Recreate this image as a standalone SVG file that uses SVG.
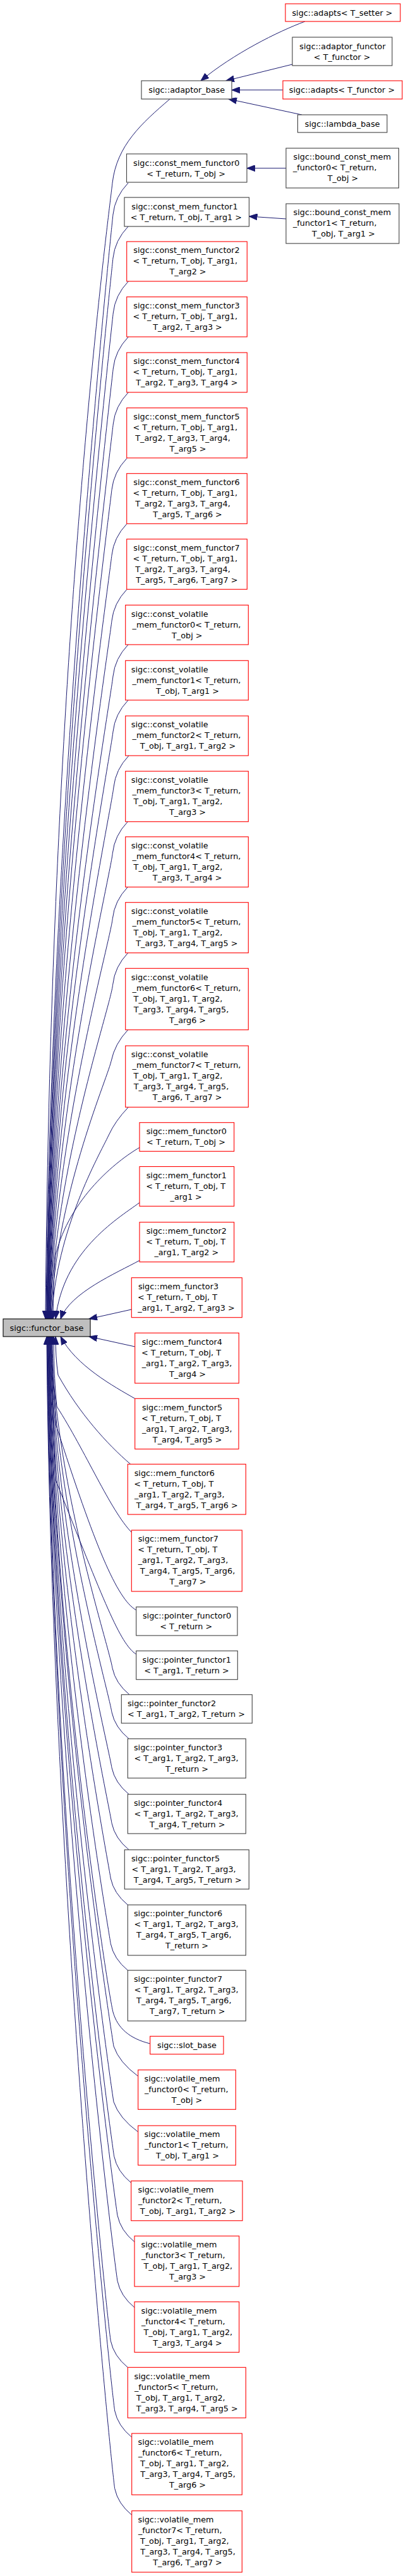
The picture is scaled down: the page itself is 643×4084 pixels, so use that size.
<svg xmlns="http://www.w3.org/2000/svg" width="643" height="4084" viewBox="0 0 643 4084">
<style>
text{font-family:"DejaVu Sans","Liberation Sans",sans-serif;font-size:12.8px;text-anchor:middle;fill:#000}
.n rect{fill:#fff;stroke:#404040;stroke-width:1.1}
.r rect{fill:#fff;stroke:#ff0000;stroke-width:1.1}
.b rect{fill:#bfbfbf;stroke:#000;stroke-width:1.1}
#edges path{fill:none;stroke:#191970;stroke-width:1;marker-end:url(#a)}
</style>
<defs>
<marker id="a" markerUnits="userSpaceOnUse" markerWidth="14" markerHeight="10" refX="13" refY="5" orient="auto" viewBox="0 0 14 10">
<path d="M0,0 L13,5 L0,10 z" fill="#191970" stroke="#191970" stroke-width="1"/>
</marker>
</defs>
<rect width="643" height="4084" fill="#fff"/>
<g id="edges">
<path d="M483,34 C440,50 370,85 318,128"/>
<path d="M463,102 L358,128"/>
<path d="M448,142.7 L367,142.7"/>
<path d="M478,182 L362,157"/>
<path d="M453,266.7 L391,266.7"/>
<path d="M453,347 L394.5,343"/>
<path d="M269,157 C225,195 185,230 178,290 C172,345 80,1027 72,2091"/>
<path d="M203,290 Q182,312 179,340 C175,377 79,1303 73,2091"/>
<path d="M203,359 Q182,381 179,409 C175,446 80,1334 74,2091"/>
<path d="M203.3,446 Q182.3,468 179.3,496 C175.3,533 80.5,1373 74.5,2091"/>
<path d="M203.3,534 Q182.3,556 179.3,584 C175.3,621 81,1413 75,2091"/>
<path d="M203.3,622 Q182.3,644 179.3,672 C175.3,709 81.5,1452 75.5,2091"/>
<path d="M201,726.5 Q180,748.5 177,776.5 C173,813.5 82,1499.5 76,2091"/>
<path d="M201,830.3 Q180,852.3 177,880.3 C173,917.3 82.5,1546 76.5,2091"/>
<path d="M201,934.3 Q180,956.3 177,984.3 C173,1021.3 83,1593 77,2091"/>
<path d="M203,1022 Q182,1044 179,1072 C175,1109 83.5,1632 77.5,2091"/>
<path d="M203,1110 Q182,1132 179,1160 C175,1197 84,1672 78,2091"/>
<path d="M204,1198 Q183,1220 180,1248 C176,1285 84.5,1712 78.5,2091"/>
<path d="M202.3,1302.7 Q181.3,1324.7 178.3,1352.7 C174.3,1389.7 85,1759 79,2091"/>
<path d="M202.3,1406.3 Q181.3,1428.3 178.3,1456.3 C174.3,1493.3 85.5,1805.4 79.5,2091"/>
<path d="M202.7,1510.7 Q181.7,1532.7 178.7,1560.7 C174.7,1597.7 86,1852 80,2091"/>
<path d="M202.7,1632.7 Q181.7,1654.7 176,1682.7 C168,1715 87,1900 81,2091"/>
<path d="M203.3,1755.3 Q182.3,1777.3 172,1800 C158,1830 88,1950 82,2091"/>
<path d="M221,1819.3 C185,1840 110,1900 88,1990 C85,2020 84,2060 84,2091"/>
<path d="M221,1906.7 C183,1934 100,1985 88,2091"/>
<path d="M221,1998.3 C185,2018 110,2050 96,2091"/>
<path d="M208.3,2076 L141,2091"/>
<path d="M213.7,2135 L141,2119"/>
<path d="M213.7,2217.3 C180,2198 120,2165 96,2119"/>
<path d="M206.7,2321.3 C170,2290 125,2240 92,2180 C89,2160 88,2140 88,2119"/>
<path d="M208.3,2429.3 C175,2395 135,2300 90,2230 C86,2190 85,2150 85,2119"/>
<path d="M215.7,2552.7 C185,2535 150,2450 89,2260 C85,2200 83,2150 83,2119"/>
<path d="M215.7,2622.7 C190,2606 165,2540 88,2346 C84,2250 82,2170 82,2119"/>
<path d="M205,2686.7 Q183,2668.7 178,2644.7 C172,2606.7 87,2355.6 81,2119"/>
<path d="M204,2756.5 Q182,2738.5 177,2714.5 C171,2676.5 86.5,2387 80.5,2119"/>
<path d="M204,2844.5 Q182,2826.5 177,2802.5 C171,2764.5 86,2426.6 80,2119"/>
<path d="M204,2932.5 Q182,2914.5 177,2890.5 C171,2852.5 85.5,2466 79.5,2119"/>
<path d="M202.3,3020 Q180.3,3002 175.3,2978 C169.3,2940 85,2505.6 79,2119"/>
<path d="M202.3,3123.7 Q180.3,3105.7 175.3,3081.7 C169.3,3043.7 84.5,2552 78.5,2119"/>
<path d="M237.7,3240 C205,3232 186,3215 179,3190 C171,3160 84,2601 78,2119"/>
<path d="M218.7,3291.7 Q188.7,3269.7 180,3244 C174,3206 83.5,2625 77.5,2119"/>
<path d="M218.7,3380 Q188.7,3358 180,3332.3 C174,3294 83,2665 77,2119"/>
<path d="M207.7,3460.7 Q185.7,3442.7 180.7,3418.7 C174.7,3380.7 82.5,2704 76.5,2119"/>
<path d="M213,3554.3 Q191,3536.3 186,3512.3 C180,3474.3 82,2746 76,2119"/>
<path d="M213,3658.3 Q191,3640.3 186,3616.3 C180,3578.3 81.5,2793 75.5,2119"/>
<path d="M202.3,3753.3 Q180.3,3735.3 175.3,3711.3 C169.3,3673.3 81,2835.5 75,2119"/>
<path d="M208.7,3864 Q186.7,3846 181.7,3822 C175.7,3784 80.5,2885 74.5,2119"/>
<path d="M208.7,3987.3 Q186.7,3969.3 181.7,3945.3 C175.7,3907.3 80,2940.8 74,2119"/>
</g>
<g id="adapts_setter" class="r"><rect x="452" y="6" width="182" height="28"/><text x="542" y="24.5">sigc::adapts&lt; T_setter &gt;</text></g>
<g id="adaptor_functor" class="n"><rect x="463" y="59" width="158" height="45"/><text x="542.5" y="77.5">sigc::adaptor_functor</text><text x="541.7" y="94.5">&lt; T_functor &gt;</text></g>
<g id="adaptor_base" class="n"><rect x="224" y="128" width="143" height="29"/><text x="295.7" y="146.8">sigc::adaptor_base</text></g>
<g id="adapts_functor" class="r"><rect x="448" y="128" width="189" height="29"/><text x="541.5" y="146.8">sigc::adapts&lt; T_functor &gt;</text></g>
<g id="lambda_base" class="n"><rect x="471.5" y="182" width="141.5" height="28"/><text x="542.3" y="200.5">sigc::lambda_base</text></g>
<g id="const_mem_functor0" class="n"><rect x="200.5" y="244" width="190.5" height="45"/><text x="295.2" y="262.5">sigc::const_mem_functor0</text><text x="294.6" y="279.5">&lt; T_return, T_obj &gt;</text></g>
<g id="bound_const_mem_functor0" class="n"><rect x="453" y="235" width="178.5" height="63"/><text x="541.9" y="253.3">sigc::bound_const_mem</text><text x="530.2" y="270.3">_functor0&lt; T_return,</text><text x="543" y="287.3">T_obj &gt;</text></g>
<g id="const_mem_functor1" class="n"><rect x="197" y="313" width="197.5" height="46"/><text x="292.4" y="331.8">sigc::const_mem_functor1</text><text x="294.8" y="348.8">&lt; T_return, T_obj, T_arg1 &gt;</text></g>
<g id="bound_const_mem_functor1" class="n"><rect x="453" y="323" width="179" height="63"/><text x="541.9" y="341.3">sigc::bound_const_mem</text><text x="530.2" y="358.3">_functor1&lt; T_return,</text><text x="544" y="375.3">T_obj, T_arg1 &gt;</text></g>
<g id="const_mem_functor2" class="r"><rect x="200.7" y="383" width="190.6" height="63"/><text x="295.5" y="401.3">sigc::const_mem_functor2</text><text x="293.3" y="418.3">&lt; T_return, T_obj, T_arg1,</text><text x="297.5" y="435.3">T_arg2 &gt;</text></g>
<g id="const_mem_functor3" class="r"><rect x="200.7" y="470.7" width="190.6" height="63.3"/><text x="295.5" y="489">sigc::const_mem_functor3</text><text x="293.3" y="506">&lt; T_return, T_obj, T_arg1,</text><text x="297" y="523">T_arg2, T_arg3 &gt;</text></g>
<g id="const_mem_functor4" class="r"><rect x="200.7" y="559" width="190.6" height="63"/><text x="295.5" y="577.3">sigc::const_mem_functor4</text><text x="293.3" y="594.3">&lt; T_return, T_obj, T_arg1,</text><text x="295.8" y="611.3">T_arg2, T_arg3, T_arg4 &gt;</text></g>
<g id="const_mem_functor5" class="r"><rect x="200.7" y="646.7" width="190.6" height="79.3"/><text x="295.5" y="665">sigc::const_mem_functor5</text><text x="293.3" y="682">&lt; T_return, T_obj, T_arg1,</text><text x="289.5" y="699">T_arg2, T_arg3, T_arg4,</text><text x="297.5" y="716">T_arg5 &gt;</text></g>
<g id="const_mem_functor6" class="r"><rect x="200.7" y="750.7" width="190.6" height="79.6"/><text x="295.5" y="769">sigc::const_mem_functor6</text><text x="293.3" y="786">&lt; T_return, T_obj, T_arg1,</text><text x="289.5" y="803">T_arg2, T_arg3, T_arg4,</text><text x="297" y="820">T_arg5, T_arg6 &gt;</text></g>
<g id="const_mem_functor7" class="r"><rect x="200.7" y="854.7" width="190.6" height="79.6"/><text x="295.5" y="873">sigc::const_mem_functor7</text><text x="293.3" y="890">&lt; T_return, T_obj, T_arg1,</text><text x="289.5" y="907">T_arg2, T_arg3, T_arg4,</text><text x="295.8" y="924">T_arg5, T_arg6, T_arg7 &gt;</text></g>
<g id="const_volatile_mem_functor0" class="r"><rect x="198.7" y="959.3" width="194.6" height="62.7"/><text x="268.8" y="977.6">sigc::const_volatile</text><text x="295.5" y="994.6">_mem_functor0&lt; T_return,</text><text x="296.3" y="1011.6">T_obj &gt;</text></g>
<g id="const_volatile_mem_functor1" class="r"><rect x="198.7" y="1047.3" width="194.6" height="62.7"/><text x="268.8" y="1065.6">sigc::const_volatile</text><text x="295.5" y="1082.6">_mem_functor1&lt; T_return,</text><text x="297" y="1099.6">T_obj, T_arg1 &gt;</text></g>
<g id="const_volatile_mem_functor2" class="r"><rect x="198.7" y="1135" width="194.6" height="63"/><text x="268.8" y="1153.3">sigc::const_volatile</text><text x="295.5" y="1170.3">_mem_functor2&lt; T_return,</text><text x="297.5" y="1187.3">T_obj, T_arg1, T_arg2 &gt;</text></g>
<g id="const_volatile_mem_functor3" class="r"><rect x="198.7" y="1222.7" width="194.6" height="80"/><text x="268.8" y="1241">sigc::const_volatile</text><text x="295.5" y="1258">_mem_functor3&lt; T_return,</text><text x="282" y="1275">T_obj, T_arg1, T_arg2,</text><text x="297" y="1292">T_arg3 &gt;</text></g>
<g id="const_volatile_mem_functor4" class="r"><rect x="198.7" y="1326.7" width="194.6" height="79.6"/><text x="268.8" y="1345">sigc::const_volatile</text><text x="295.5" y="1362">_mem_functor4&lt; T_return,</text><text x="282" y="1379">T_obj, T_arg1, T_arg2,</text><text x="296.7" y="1396">T_arg3, T_arg4 &gt;</text></g>
<g id="const_volatile_mem_functor5" class="r"><rect x="198.7" y="1430.7" width="194.6" height="80"/><text x="268.8" y="1449">sigc::const_volatile</text><text x="295.5" y="1466">_mem_functor5&lt; T_return,</text><text x="282" y="1483">T_obj, T_arg1, T_arg2,</text><text x="295.8" y="1500">T_arg3, T_arg4, T_arg5 &gt;</text></g>
<g id="const_volatile_mem_functor6" class="r"><rect x="198.7" y="1535.3" width="194.6" height="97.4"/><text x="268.8" y="1553.6">sigc::const_volatile</text><text x="295.5" y="1570.6">_mem_functor6&lt; T_return,</text><text x="282" y="1587.6">T_obj, T_arg1, T_arg2,</text><text x="287" y="1604.6">T_arg3, T_arg4, T_arg5,</text><text x="297" y="1621.6">T_arg6 &gt;</text></g>
<g id="const_volatile_mem_functor7" class="r"><rect x="198.7" y="1658" width="194.6" height="97.3"/><text x="268.8" y="1676.3">sigc::const_volatile</text><text x="295.5" y="1693.3">_mem_functor7&lt; T_return,</text><text x="282" y="1710.3">T_obj, T_arg1, T_arg2,</text><text x="287" y="1727.3">T_arg3, T_arg4, T_arg5,</text><text x="296.7" y="1744.3">T_arg6, T_arg7 &gt;</text></g>
<g id="mem_functor0" class="r"><rect x="221" y="1779.7" width="149.7" height="45.6"/><text x="295.3" y="1798">sigc::mem_functor0</text><text x="294.5" y="1815">&lt; T_return, T_obj &gt;</text></g>
<g id="mem_functor1" class="r"><rect x="221" y="1849.5" width="149.7" height="62.8"/><text x="295.3" y="1867.8">sigc::mem_functor1</text><text x="294.2" y="1884.8">&lt; T_return, T_obj, T</text><text x="294.7" y="1901.8">_arg1 &gt;</text></g>
<g id="mem_functor2" class="r"><rect x="221" y="1937.7" width="149.7" height="63"/><text x="295.3" y="1956">sigc::mem_functor2</text><text x="294.2" y="1973">&lt; T_return, T_obj, T</text><text x="295.3" y="1990">_arg1, T_arg2 &gt;</text></g>
<g id="mem_functor3" class="r"><rect x="208.3" y="2025.7" width="175" height="63"/><text x="282.5" y="2044">sigc::mem_functor3</text><text x="281" y="2061">&lt; T_return, T_obj, T</text><text x="295" y="2078">_arg1, T_arg2, T_arg3 &gt;</text></g>
<g id="functor_base" class="b"><rect x="5" y="2091" width="138" height="28"/><text x="74" y="2109.5">sigc::functor_base</text></g>
<g id="mem_functor4" class="r"><rect x="213.7" y="2113.3" width="164.6" height="79.7"/><text x="288.3" y="2131.6">sigc::mem_functor4</text><text x="287" y="2148.6">&lt; T_return, T_obj, T</text><text x="296" y="2165.6">_arg1, T_arg2, T_arg3,</text><text x="297" y="2182.6">T_arg4 &gt;</text></g>
<g id="mem_functor5" class="r"><rect x="213.7" y="2217.3" width="164.3" height="80"/><text x="288.5" y="2235.6">sigc::mem_functor5</text><text x="287" y="2252.6">&lt; T_return, T_obj, T</text><text x="296.2" y="2269.6">_arg1, T_arg2, T_arg3,</text><text x="296.7" y="2286.6">T_arg4, T_arg5 &gt;</text></g>
<g id="mem_functor6" class="r"><rect x="202.3" y="2321.3" width="187" height="79.7"/><text x="276.3" y="2339.6">sigc::mem_functor6</text><text x="275.3" y="2356.6">&lt; T_return, T_obj, T</text><text x="284.2" y="2373.6">_arg1, T_arg2, T_arg3,</text><text x="296.2" y="2390.6">T_arg4, T_arg5, T_arg6 &gt;</text></g>
<g id="mem_functor7" class="r"><rect x="208.3" y="2426" width="175" height="97"/><text x="282.3" y="2444.3">sigc::mem_functor7</text><text x="281.3" y="2461.3">&lt; T_return, T_obj, T</text><text x="290" y="2478.3">_arg1, T_arg2, T_arg3,</text><text x="297" y="2495.3">T_arg4, T_arg5, T_arg6,</text><text x="297.5" y="2512.3">T_arg7 &gt;</text></g>
<g id="pointer_functor0" class="n"><rect x="215.7" y="2547.7" width="160.3" height="45.3"/><text x="296" y="2566">sigc::pointer_functor0</text><text x="294.8" y="2583">&lt; T_return &gt;</text></g>
<g id="pointer_functor1" class="n"><rect x="215.7" y="2617.3" width="160.6" height="45.4"/><text x="295.7" y="2635.6">sigc::pointer_functor1</text><text x="295.5" y="2652.6">&lt; T_arg1, T_return &gt;</text></g>
<g id="pointer_functor2" class="n"><rect x="192.3" y="2686.7" width="207" height="45.3"/><text x="272" y="2705">sigc::pointer_functor2</text><text x="295" y="2722">&lt; T_arg1, T_arg2, T_return &gt;</text></g>
<g id="pointer_functor3" class="n"><rect x="202.3" y="2756.7" width="187" height="62.3"/><text x="282" y="2775">sigc::pointer_functor3</text><text x="295" y="2792">&lt; T_arg1, T_arg2, T_arg3,</text><text x="296" y="2809">T_return &gt;</text></g>
<g id="pointer_functor4" class="n"><rect x="202.3" y="2844.7" width="187" height="62.3"/><text x="282" y="2863">sigc::pointer_functor4</text><text x="295" y="2880">&lt; T_arg1, T_arg2, T_arg3,</text><text x="296.7" y="2897">T_arg4, T_return &gt;</text></g>
<g id="pointer_functor5" class="n"><rect x="197.3" y="2932.7" width="197" height="62.3"/><text x="278" y="2951">sigc::pointer_functor5</text><text x="291" y="2968">&lt; T_arg1, T_arg2, T_arg3,</text><text x="297.2" y="2985">T_arg4, T_arg5, T_return &gt;</text></g>
<g id="pointer_functor6" class="n"><rect x="202.3" y="3020" width="187" height="80"/><text x="282" y="3038.3">sigc::pointer_functor6</text><text x="295" y="3055.3">&lt; T_arg1, T_arg2, T_arg3,</text><text x="291.3" y="3072.3">T_arg4, T_arg5, T_arg6,</text><text x="296" y="3089.3">T_return &gt;</text></g>
<g id="pointer_functor7" class="n"><rect x="202.3" y="3123.7" width="187" height="80.3"/><text x="282" y="3142">sigc::pointer_functor7</text><text x="295" y="3159">&lt; T_arg1, T_arg2, T_arg3,</text><text x="291.3" y="3176">T_arg4, T_arg5, T_arg6,</text><text x="296.7" y="3193">T_arg7, T_return &gt;</text></g>
<g id="slot_base" class="r"><rect x="237.7" y="3228.3" width="116.3" height="28.4"/><text x="296" y="3247">sigc::slot_base</text></g>
<g id="volatile_mem_functor0" class="r"><rect x="218.7" y="3281.7" width="154.6" height="62.6"/><text x="288.5" y="3300">sigc::volatile_mem</text><text x="295.2" y="3317">_functor0&lt; T_return,</text><text x="296" y="3334">T_obj &gt;</text></g>
<g id="volatile_mem_functor1" class="r"><rect x="218.7" y="3370" width="154.6" height="62.7"/><text x="288.5" y="3388.3">sigc::volatile_mem</text><text x="295.2" y="3405.3">_functor1&lt; T_return,</text><text x="297" y="3422.3">T_obj, T_arg1 &gt;</text></g>
<g id="volatile_mem_functor2" class="r"><rect x="207.7" y="3457.7" width="176.3" height="63"/><text x="278.5" y="3476">sigc::volatile_mem</text><text x="285.2" y="3493">_functor2&lt; T_return,</text><text x="297.5" y="3510">T_obj, T_arg1, T_arg2 &gt;</text></g>
<g id="volatile_mem_functor3" class="r"><rect x="213" y="3545" width="165.7" height="80"/><text x="283.5" y="3563.3">sigc::volatile_mem</text><text x="290.2" y="3580.3">_functor3&lt; T_return,</text><text x="297.8" y="3597.3">T_obj, T_arg1, T_arg2,</text><text x="297" y="3614.3">T_arg3 &gt;</text></g>
<g id="volatile_mem_functor4" class="r"><rect x="213" y="3649.3" width="165.7" height="80"/><text x="283.5" y="3667.6">sigc::volatile_mem</text><text x="290.2" y="3684.6">_functor4&lt; T_return,</text><text x="297.8" y="3701.6">T_obj, T_arg1, T_arg2,</text><text x="297" y="3718.6">T_arg3, T_arg4 &gt;</text></g>
<g id="volatile_mem_functor5" class="r"><rect x="202.3" y="3753.3" width="187" height="80"/><text x="272.5" y="3771.6">sigc::volatile_mem</text><text x="279.2" y="3788.6">_functor5&lt; T_return,</text><text x="286.3" y="3805.6">T_obj, T_arg1, T_arg2,</text><text x="296.2" y="3822.6">T_arg3, T_arg4, T_arg5 &gt;</text></g>
<g id="volatile_mem_functor6" class="r"><rect x="208.7" y="3858" width="174.6" height="97.3"/><text x="278.5" y="3876.3">sigc::volatile_mem</text><text x="285.2" y="3893.3">_functor6&lt; T_return,</text><text x="292.3" y="3910.3">T_obj, T_arg1, T_arg2,</text><text x="297.5" y="3927.3">T_arg3, T_arg4, T_arg5,</text><text x="297" y="3944.3">T_arg6 &gt;</text></g>
<g id="volatile_mem_functor7" class="r"><rect x="208.7" y="3980.7" width="174.6" height="97.3"/><text x="278.5" y="3999">sigc::volatile_mem</text><text x="285.2" y="4016">_functor7&lt; T_return,</text><text x="292.3" y="4033">T_obj, T_arg1, T_arg2,</text><text x="297.5" y="4050">T_arg3, T_arg4, T_arg5,</text><text x="297" y="4067">T_arg6, T_arg7 &gt;</text></g>
</svg>
